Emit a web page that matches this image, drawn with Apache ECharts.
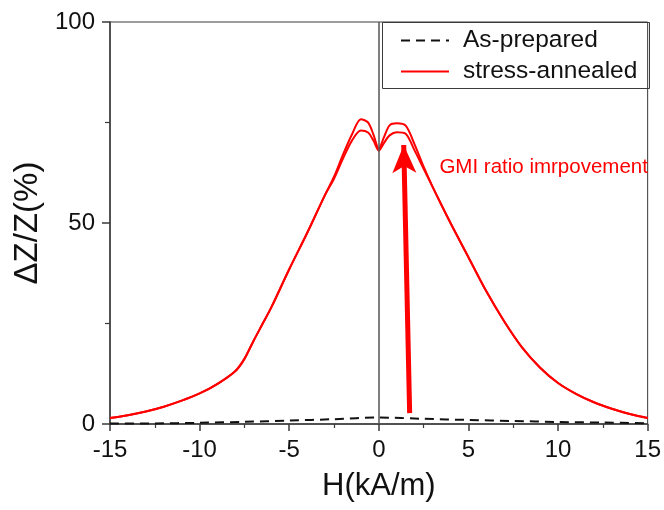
<!DOCTYPE html>
<html>
<head>
<meta charset="utf-8">
<script src="https://cdn.jsdelivr.net/npm/echarts@6/dist/echarts.min.js"></script>
<style>html,body{margin:0;padding:0;background:#fff}#c{width:664px;height:510px}</style>
</head>
<body>
<div id="c"></div>
<script>
// ---- data ----
const H_annealed = [-15,-14,-13,-12,-11,-10,-9,-8,-7.5,-7,-6.5,-6,-5,-4,-3,-2.5,-2,-1.5,-1,-0.6,-0.3,0,0.3,0.6,1,1.5,2,2.5,3,4,5,6,7,8,9,10,11,12,13,14,15];
const annealedUp = [1.5,2.2,3.1,4.3,5.8,7.6,10,13.2,16.2,20.6,24.8,29,38.5,47.5,57,61.5,67,72,75.8,75,72,68.5,71.5,74.3,74.8,74.2,69.5,64,59,50,41.5,33,25.5,19,14,10.2,7.5,5.4,3.8,2.5,1.5];
const annealedDown = [1.5,2.2,3.1,4.3,5.8,7.6,10,13.2,16.2,20.6,24.8,29,38.5,47.5,57,61,66,70.5,73,72.5,70.5,68,70,71.8,72.6,72.2,68,63.5,59,50,41.5,33,25.5,19,14,10.2,7.5,5.4,3.8,2.5,1.5];
const H_prepared = [-15,-12.5,-10,-7.5,-5,-2.5,0,2.5,5,7.5,10,12.5,15];
const prepared = [0.1,0.15,0.3,0.55,0.85,1.2,1.6,1.3,1.0,0.75,0.5,0.35,0.2];
const xTicks = [-15,-10,-5,0,5,10,15];
const yTicks = [0,50,100];
const seriesNames = ['As-prepared','stress-annealed'];
const annotationText = 'GMI ratio imrpovement';
const annotationAt = [3.38, 63.9];
const arrowFrom = [1.72, 2.7];
const arrowTo = [1.39, 69.4];

const pairs = (xs, ys) => xs.map((x, i) => [x, ys[i]]);
const FONT = '"Liberation Sans", Arial, sans-serif';
const RED = '#ff0000';
const AX = '#3a3a3a';

const chart = echarts.init(document.getElementById('c'), null, {renderer: 'canvas'});
chart.setOption({
  animation: false,
  backgroundColor: '#fff',
  textStyle: {fontFamily: FONT},
  grid: {left: 110, right: 14, top: 22, bottom: 86, show: true, borderColor: AX, borderWidth: 1},
  legend: {
    data: seriesNames,
    orient: 'vertical',
    left: 400, top: 28,
    itemWidth: 48, itemHeight: 14, itemGap: 6,
    itemStyle: {opacity: 0},
    textStyle: {fontFamily: FONT, fontSize: 24.5, color: '#111', lineHeight: 24, padding: [0, 0, 0, 9]},
    padding: 0
  },
  graphic: [{
    type: 'rect', silent: true, z: 10,
    shape: {x: 382.5, y: 22.5, width: 267, height: 66},
    style: {fill: 'none', stroke: AX, lineWidth: 1}
  }],
  xAxis: {
    type: 'value', min: xTicks[0], max: xTicks[xTicks.length - 1], interval: 5,
    name: 'H(kA/m)', nameLocation: 'middle', nameGap: 47,
    nameTextStyle: {fontFamily: FONT, fontSize: 31, color: '#111'},
    axisLine: {show: true, onZero: false, lineStyle: {color: AX, width: 1.5}},
    axisTick: {show: true, length: 7, lineStyle: {color: AX, width: 1.5}},
    minorTick: {show: true, splitNumber: 2, length: 4, lineStyle: {color: AX, width: 1.2}},
    axisLabel: {fontFamily: FONT, fontSize: 24, color: '#111', margin: 14},
    splitLine: {show: false}
  },
  yAxis: {
    type: 'value', min: yTicks[0], max: yTicks[yTicks.length - 1], interval: 50,
    name: 'ΔZ/Z(%)', nameLocation: 'middle', nameGap: 59,
    nameTextStyle: {fontFamily: FONT, fontSize: 33, color: '#111'},
    axisLine: {show: true, onZero: false, lineStyle: {color: AX, width: 1.5}},
    axisTick: {show: true, length: 8, lineStyle: {color: AX, width: 1.5}},
    minorTick: {show: true, splitNumber: 2, length: 5, lineStyle: {color: AX, width: 1.2}},
    axisLabel: {fontFamily: FONT, fontSize: 24, color: '#111', margin: 15},
    splitLine: {show: false}
  },
  series: [
    {
      name: seriesNames[0], type: 'line', data: pairs(H_prepared, prepared),
      symbol: 'none', smooth: 0.3, z: 3,
      lineStyle: {color: '#111', width: 2, type: [9, 6]},
      itemStyle: {color: '#111'},
      markLine: {
        silent: true, symbol: ['none', 'none'], label: {show: false},
        lineStyle: {color: '#555', width: 1.5, type: 'solid'},
        data: [{xAxis: 0}]
      }
    },
    {
      name: seriesNames[1], type: 'line', data: pairs(H_annealed, annealedUp),
      symbol: 'none', smooth: 0.3, z: 4,
      lineStyle: {color: RED, width: 2},
      itemStyle: {color: RED},
      markLine: {
        silent: true, symbol: ['none', 'arrow'], symbolSize: [18, 28],
        label: {show: false},
        lineStyle: {color: RED, width: 5, type: 'solid'},
        data: [[{coord: arrowFrom}, {coord: arrowTo}]]
      },
      markPoint: {
        silent: true, symbol: 'circle', symbolSize: 0,
        label: {show: true, position: 'right', distance: 0, formatter: annotationText,
                fontFamily: FONT, fontSize: 20.5, color: RED},
        data: [{coord: annotationAt}]
      }
    },
    {
      name: seriesNames[1], type: 'line', data: pairs(H_annealed, annealedDown),
      symbol: 'none', smooth: 0.3, z: 4,
      lineStyle: {color: RED, width: 2},
      itemStyle: {color: RED}
    }
  ]
});
</script>
</body>
</html>
